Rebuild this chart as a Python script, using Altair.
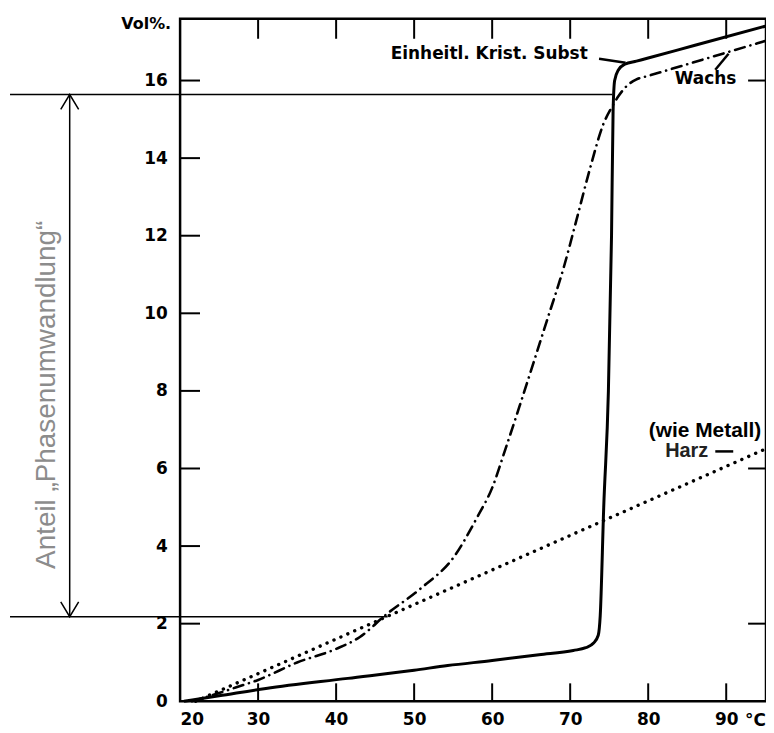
import altair as alt
import pandas as pd

# ---- data ----
temp_solid = [20.5, 25, 31, 41.5, 50, 54.3, 60, 66, 70.4, 72, 73, 73.6, 73.85, 74.3, 74.9, 75.3, 75.5, 75.7, 76.2, 77.0, 78.5, 80, 86, 95]
vol_solid = [0.0, 0.14, 0.33, 0.59, 0.8, 0.92, 1.05, 1.2, 1.31, 1.38, 1.5, 1.7, 2.2, 5.0, 8.0, 12.0, 15.2, 16.0, 16.28, 16.42, 16.5, 16.58, 16.91, 17.4]

temp_wax = [21.5, 24, 27.5, 30, 35, 40, 43, 46.5, 50.8, 55.2, 58.1, 60, 61.7, 63.5, 67, 69.2, 70.8, 72.5, 74.3, 75.3, 76.2, 77.2, 78.5, 80, 83, 85.5, 88, 90.5, 93, 95]
vol_wax = [0, 0.15, 0.38, 0.55, 1.0, 1.35, 1.65, 2.25, 2.9, 3.75, 4.75, 5.5, 6.5, 7.6, 9.8, 11.2, 12.4, 13.7, 14.9, 15.3, 15.6, 15.85, 16.03, 16.12, 16.3, 16.45, 16.6, 16.75, 16.9, 17.02]

temp_resin = [22, 95]
vol_resin = [0.0, 6.5]

y_ticks = [0, 2, 4, 6, 8, 10, 12, 14, 16]
x_ticks = [20, 30, 40, 50, 60, 70, 80, 90]
right_ticks = [2, 6, 16]

ref_levels = [15.64, 2.18]
ref_x_start = [-1.8, -1.8]
ref_x_end = [75.4, 46.6]
arrow_x = 5.85

labels_text = ["Einheitl. Krist. Subst", "Wachs"]
labels_x = [47.0, 83.4]
labels_y = [16.69, 16.03]

leader_x = [73.7, 88.6, 88.6]
leader_x2 = [77.1, 90.3, 90.9]
leader_y = [16.56, 16.28, 6.44]
leader_y2 = [16.46, 16.69, 6.44]

XD = [20, 95.1]
YD = [0, 17.59]
W, H = 589, 686

FONT = "DejaVu Sans"

xs = alt.Scale(domain=XD, nice=False, zero=False)
ys = alt.Scale(domain=YD, nice=False, zero=False)
xa = alt.Axis(values=x_ticks, ticks=False, domain=False, grid=False, title=None,
              labelFont=FONT, labelFontWeight="bold", labelFontSize=17,
              labelColor="black", labelPadding=10)
ya = alt.Axis(values=y_ticks, ticks=False, domain=False, grid=False, title=None,
              labelFont=FONT, labelFontWeight="bold", labelFontSize=17,
              labelColor="black", labelPadding=13)


def X(f="x"):
    return alt.X(f"{f}:Q", scale=xs, axis=xa)


def Y(f="y"):
    return alt.Y(f"{f}:Q", scale=ys, axis=ya)


def xy():
    return dict(x=X(), y=Y())


# inward ticks
left_t = alt.Chart(pd.DataFrame({"y": y_ticks[1:]})).mark_rule(color="black", strokeWidth=2).encode(
    y=Y(), x=alt.value(0), x2=alt.value(20))
bottom_t = alt.Chart(pd.DataFrame({"x": x_ticks[1:]})).mark_rule(color="black", strokeWidth=2).encode(
    x=X(), y=alt.value(H), y2=alt.value(H - 18))
top_t = alt.Chart(pd.DataFrame({"x": x_ticks[1:]})).mark_rule(color="black", strokeWidth=2).encode(
    x=X(), y=alt.value(0), y2=alt.value(20))
right_t = alt.Chart(pd.DataFrame({"y": right_ticks})).mark_rule(color="black", strokeWidth=2).encode(
    y=Y(), x=alt.value(W), x2=alt.value(W - 18))

# curves
solid = alt.Chart(pd.DataFrame({"x": temp_solid, "y": vol_solid})).mark_line(
    color="black", strokeWidth=3, interpolate="monotone").encode(**xy())
wax = alt.Chart(pd.DataFrame({"x": temp_wax, "y": vol_wax})).mark_line(
    color="black", strokeWidth=2.6, strokeDash=[10, 6, 0.1, 6], strokeCap="round",
    interpolate="monotone").encode(**xy())
resin = alt.Chart(pd.DataFrame({"x": temp_resin, "y": vol_resin})).mark_line(
    color="black", strokeWidth=3.4, strokeDash=[0.1, 7.5], strokeCap="round").encode(**xy())

# reference lines and arrow
refdf = pd.DataFrame({"y": ref_levels, "x": ref_x_start, "x2": ref_x_end})
refs = alt.Chart(refdf).mark_rule(color="black", strokeWidth=1.5).encode(
    x=X(), x2="x2:Q", y=Y())
arrow = alt.Chart(pd.DataFrame({"x": [arrow_x], "y": [ref_levels[1]], "y2": [ref_levels[0]]})).mark_rule(
    color="black", strokeWidth=1.5).encode(x=X(), y=Y(), y2="y2:Q")
head_top = alt.Chart(pd.DataFrame({"x": [arrow_x], "y": [ref_levels[0]]})).mark_point(
    shape="M-0.6,1L0,0L0.6,1", size=900, filled=False, color="black", strokeWidth=1.5, opacity=1).encode(**xy())
head_bot = alt.Chart(pd.DataFrame({"x": [arrow_x], "y": [ref_levels[1]]})).mark_point(
    shape="M-0.6,-1L0,0L0.6,-1", size=900, filled=False, color="black", strokeWidth=1.5, opacity=1).encode(**xy())

# leader lines
leaders = alt.Chart(pd.DataFrame({"x": leader_x, "x2": leader_x2, "y": leader_y, "y2": leader_y2})).mark_rule(
    color="black", strokeWidth=2.5).encode(x=X(), x2="x2:Q", y=Y(), y2="y2:Q")

# texts
curve_labels = alt.Chart(pd.DataFrame({"x": labels_x, "y": labels_y, "t": labels_text})).mark_text(
    align="left", baseline="middle", font=FONT, fontWeight="bold", fontSize=17, color="black").encode(
    **xy(), text="t:N")
vol_lab = alt.Chart(pd.DataFrame({"x": [18.85], "y": [17.46], "t": ["Vol%."]})).mark_text(
    align="right", baseline="middle", font=FONT, fontWeight="bold", fontSize=16, color="black").encode(
    **xy(), text="t:N")
deg_lab = alt.Chart(pd.DataFrame({"x": [92.4], "y": [-0.5], "t": ["°C"]})).mark_text(
    align="left", baseline="middle", font=FONT, fontWeight="bold", fontSize=17, color="black").encode(
    **xy(), text="t:N")
metall = alt.Chart(pd.DataFrame({"x": [94.5], "y": [6.97], "t": ["(wie Metall)"]})).mark_text(
    align="right", baseline="middle", font="Liberation Sans", fontWeight="bold", fontSize=21, color="black").encode(
    **xy(), text="t:N")
harz = alt.Chart(pd.DataFrame({"x": [87.7], "y": [6.44], "t": ["Harz"]})).mark_text(
    align="right", baseline="middle", font="Liberation Sans", fontWeight="bold", fontSize=20, color="#222222").encode(
    **xy(), text="t:N")
anteil = alt.Chart(pd.DataFrame({"x": [2.9], "y": [7.9], "t": ["Anteil „Phasenumwandlung“"]})).mark_text(
    align="center", baseline="middle", angle=270, font="Liberation Sans", fontSize=28, color="#8c8c8c").encode(
    **xy(), text="t:N")

chart = alt.layer(
    refs, arrow, head_top, head_bot, left_t, bottom_t, top_t, right_t,
    resin, wax, solid, leaders, curve_labels, vol_lab, deg_lab, metall, harz, anteil
).properties(
    width=W, height=H,
    padding={"left": 173, "top": 9, "right": 0, "bottom": 30},
    autosize=alt.AutoSizeParams(type="none"),
    background="white",
).configure_view(stroke="black", strokeWidth=2.5)

chart.save("out.html", embed_options={"renderer": "svg", "actions": False})
